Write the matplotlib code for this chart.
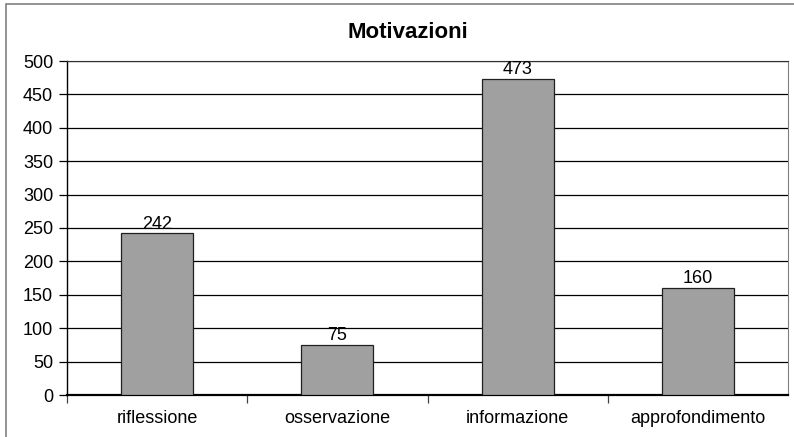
import matplotlib.pyplot as plt
from matplotlib.patches import Rectangle

# dati del grafico
categorie = ["riflessione", "osservazione", "informazione", "approfondimento"]
valori = [242, 75, 473, 160]
y_ticks = [0, 50, 100, 150, 200, 250, 300, 350, 400, 450, 500]

plt.rcParams['font.family'] = ['Liberation Sans', 'DejaVu Sans']

W, H = 794, 437
fig = plt.figure(figsize=(W / 100, H / 100), dpi=100)

# cornice esterna del grafico (stile Excel), tagliata a destra e in basso
fig.patches.append(Rectangle((6 / W, -0.2), 1.2, 1.2 - 4 / H, transform=fig.transFigure,
                             fill=False, edgecolor='#808080', linewidth=1.2))

ax = fig.add_axes([67 / W, (H - 395) / H, 721 / W, 334 / H])

pos = [i + 0.5 for i in range(len(categorie))]
ax.bar(pos, valori, width=0.4, color='#a0a0a0', edgecolor='#202020', linewidth=0.9, zorder=3)

for x, v in zip(pos, valori):
    ax.text(x, v + 1, str(v), ha='center', va='bottom', fontsize=13, zorder=4)

ax.set_xlim(0, len(categorie))
ax.set_ylim(0, 500)
ax.set_yticks(y_ticks)
ax.yaxis.grid(True, color='black', linewidth=0.9, zorder=0)
ax.tick_params(axis='y', labelsize=13, length=6, width=0.9, pad=4, direction='out')

ax.set_xticks(pos)
ax.set_xticklabels(categorie)
ax.set_xticks(range(len(categorie)), minor=True)
ax.tick_params(axis='x', which='major', length=0, labelsize=13, pad=11)
ax.tick_params(axis='x', which='minor', length=6, width=0.9, direction='out', color='#404040')

ax.spines['left'].set_linewidth(1.0)
ax.spines['bottom'].set_linewidth(1.6)
ax.spines['top'].set_color('#303030')
ax.spines['right'].set_color('#808080')

fig.text(408 / W, 1 - 32 / H, "Motivazioni", ha='center', va='center',
         fontsize=16, fontweight='bold')

fig.savefig('out.png', dpi=100)
